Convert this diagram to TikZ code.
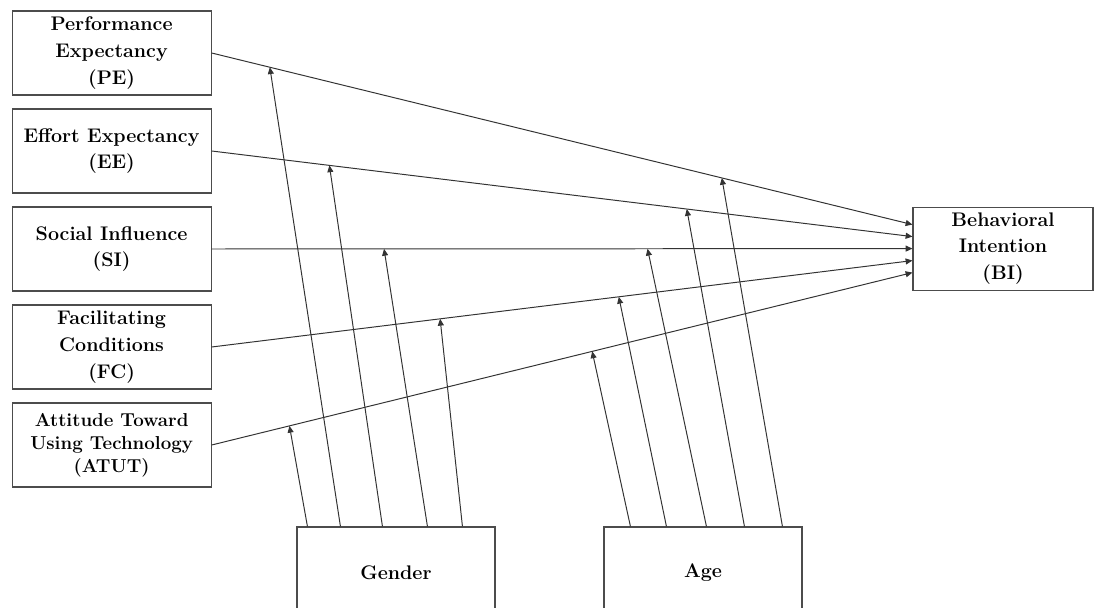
\documentclass[tikz,border=0pt]{standalone}
\usepackage{amsmath}
\usepackage{xcolor}
\usepackage{tikz}
\usetikzlibrary{arrows.meta}

\tikzset{
  box/.style={draw=black!70, line width=0.8pt, minimum width=4.975cm, minimum height=2.1cm,
    align=center, inner sep=2pt, font=\fontsize{14}{19}\selectfont\bfseries},
  link/.style={draw=black!80, line width=0.7pt, -{Triangle[length=1.7mm,width=1.5mm]}}
}

\begin{document}
\begin{tikzpicture}
  \useasboundingbox (0,0) rectangle (27.6,15.175);
  \clip (0,0) rectangle (27.6,15.175);

  % predictors
  \node[box] (pe) at (2.79,13.85) {Performance\\Expectancy\\(PE)};
  \node[box] (ee) at (2.79,11.4) {Effort Expectancy\\(EE)};
  \node[box] (si) at (2.79,8.95) {Social Influence\\(SI)};
  \node[box] (fc) at (2.79,6.5) {Facilitating\\Conditions\\(FC)};
  \node[box, font=\fontsize{13.3}{16.5}\selectfont\bfseries] (atut) at (2.79,4.05) {Attitude Toward\\Using Technology\\(ATUT)};

  % outcome and moderators
  \node[box, minimum width=4.5cm, minimum height=2.075cm] (bi) at (25.075,8.96) {Behavioral\\Intention\\(BI)};
  \node[box, minimum width=4.95cm, minimum height=2.3cm] (gender) at (9.9,0.85) {Gender};
  \node[box, minimum width=4.95cm, minimum height=2.3cm] (age) at (17.575,0.85) {Age};

  \foreach \c/\dy/\g/\a in {pe/0.6/0.083/0.728, ee/0.3/0.168/0.678, si/0/0.246/0.622,
                            fc/-0.3/0.326/0.581, atut/-0.6/0.111/0.543} {
    \draw[link] (\c.east) -- ([yshift=\dy cm]bi.west)
      coordinate[pos=\g] (\c-g) coordinate[pos=\a] (\c-a);
  }

  \foreach \c/\x in {atut/0.275, pe/1.1, ee/2.15, si/3.275, fc/4.15}
    \draw[link] ([xshift=\x cm]gender.north west) -- (\c-g);

  \foreach \c/\x in {atut/0.675, fc/1.575, si/2.575, ee/3.525, pe/4.475}
    \draw[link] ([xshift=\x cm]age.north west) -- (\c-a);
\end{tikzpicture}
\end{document}
